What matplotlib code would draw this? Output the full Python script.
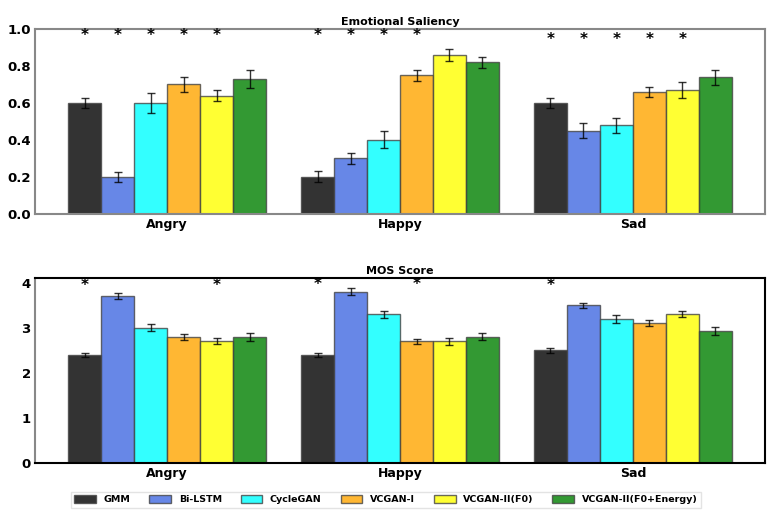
import numpy as np
import matplotlib.pyplot as plt

emotions = ["Angry", "Happy", "Sad"]
models = ["GMM", "Bi-LSTM", "CycleGAN", "VCGAN-I", "VCGAN-II(F0)", "VCGAN-II(F0+Energy)"]
colors = ["black", "royalblue", "cyan", "orange", "yellow", "green"]

# Emotional saliency (rows = emotions, cols = models)
sal_mean = [
    [0.60, 0.20, 0.60, 0.70, 0.64, 0.73],
    [0.20, 0.30, 0.40, 0.75, 0.86, 0.82],
    [0.60, 0.45, 0.48, 0.66, 0.67, 0.74],
]
sal_err = [
    [0.025, 0.025, 0.052, 0.038, 0.032, 0.048],
    [0.030, 0.032, 0.046, 0.031, 0.031, 0.031],
    [0.026, 0.040, 0.040, 0.028, 0.041, 0.041],
]
# stars: (emotion, model index, height)
sal_stars = [(0, 0, 0.965), (0, 1, 0.965), (0, 2, 0.965), (0, 3, 0.965), (0, 4, 0.965),
             (1, 0, 0.965), (1, 1, 0.965), (1, 2, 0.965), (1, 3, 0.965),
             (2, 0, 0.945), (2, 1, 0.945), (2, 2, 0.945), (2, 3, 0.945), (2, 4, 0.945)]

# MOS score
mos_mean = [
    [2.40, 3.70, 3.00, 2.80, 2.70, 2.80],
    [2.40, 3.80, 3.30, 2.70, 2.70, 2.80],
    [2.50, 3.50, 3.20, 3.10, 3.30, 2.93],
]
mos_err = [
    [0.05, 0.065, 0.075, 0.065, 0.07, 0.09],
    [0.05, 0.08, 0.08, 0.055, 0.075, 0.075],
    [0.055, 0.06, 0.09, 0.065, 0.07, 0.08],
]
mos_stars = [(0, 0, 3.93), (0, 4, 3.93), (1, 0, 3.96), (1, 3, 3.96), (2, 0, 3.93)]

w = 0.85 / 6
x = np.arange(len(emotions))

fig = plt.figure(figsize=(7.72, 5.18), dpi=100)
ax1 = fig.add_axes([0.0453, 0.587, 0.9457, 0.357])
ax2 = fig.add_axes([0.0453, 0.106, 0.9457, 0.357])


def draw(ax, mean, err, stars, title, ylim, yticks, spine_col):
    mean = np.array(mean)
    err = np.array(err)
    for j, m in enumerate(models):
        pos = x + (j - 2.5) * w
        ax.bar(pos, mean[:, j], w, color=colors[j], alpha=0.8,
               edgecolor="#444444", linewidth=1.0, label=m)
        ax.errorbar(pos, mean[:, j], yerr=err[:, j], fmt="none",
                    ecolor="black", elinewidth=1.0, capsize=3, alpha=0.8)
    for (i, j, h) in stars:
        ax.text(x[i] + (j - 2.5) * w, h, "*", ha="center", va="center",
                fontsize=11, fontweight="bold")
    ax.set_ylim(*ylim)
    ax.set_yticks(yticks)
    ax.set_xticks(x)
    ax.set_xticklabels(emotions, fontweight="bold", fontsize=9)
    for lab in ax.get_yticklabels():
        lab.set_fontweight("bold")
        lab.set_fontsize(9.5)
    ax.tick_params(length=0, pad=3)
    ax.set_title(title, fontweight="bold", fontsize=8, pad=3)
    for s in ax.spines.values():
        s.set_color(spine_col)
        s.set_linewidth(1.5)


draw(ax1, sal_mean, sal_err, sal_stars, "Emotional Saliency", (0, 1.0),
     [0.0, 0.2, 0.4, 0.6, 0.8, 1.0], "#888888")
draw(ax2, mos_mean, mos_err, mos_stars, "MOS Score", (0, 4.1),
     [0, 1, 2, 3, 4], "black")
ax2.spines["left"].set_color("#888888")

handles, labels = ax1.get_legend_handles_labels()
fig.legend(handles, labels, loc="center", bbox_to_anchor=(0.5, 0.035), ncol=6,
           prop={"weight": "bold", "size": 6.8}, frameon=True,
           handlelength=2.3, handleheight=0.9, columnspacing=2.0,
           handletextpad=0.8, fancybox=False, edgecolor="#dddddd")

plt.savefig("out.png", dpi=100)
plt.close()
